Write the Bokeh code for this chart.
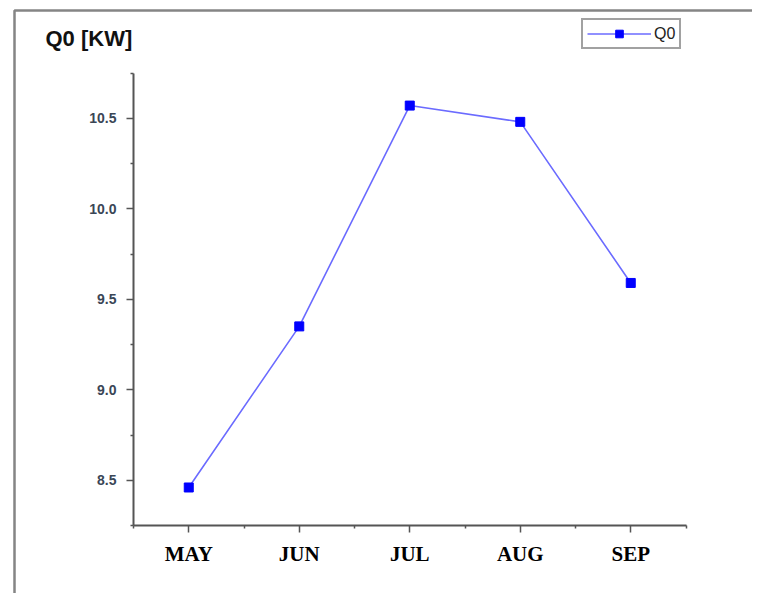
from bokeh.plotting import figure
from bokeh.models import FixedTicker, Legend, LegendItem, Range1d, Label, BoxAnnotation
from bokeh.embed import file_html
from bokeh.resources import INLINE

months = ["MAY", "JUN", "JUL", "AUG", "SEP"]
q0 = [8.46, 9.35, 10.57, 10.48, 9.59]
y_ticks = [8.5, 9.0, 9.5, 10.0, 10.5]
y_tick_labels = ["8.5", "9.0", "9.5", "10.0", "10.5"]
y_axis_span = (8.25, 10.75)
title_text = "Q0 [KW]"

xs = list(range(len(months)))
x_axis_span = (-0.5, len(months) - 0.5)

# Layout: the whole figure is the frame; axes are pinned inside it.
W, H = 752, 593
px_x = 110.5          # pixels per category step
px_y = 181.0          # pixels per 1 kW
ax_left, ax_bottom = 133, 68   # axis origin offset from figure left / bottom (px)
x0 = x_axis_span[0] - ax_left / px_x
x1 = x0 + W / px_x
y0 = y_axis_span[0] - ax_bottom / px_y
y1 = y0 + H / px_y

p = figure(width=W, height=H, output_backend="svg", toolbar_location=None,
           title_location=None,
           x_range=Range1d(x0, x1), y_range=Range1d(y0, y1), min_border=0)
p.grid.visible = False
p.outline_line_color = None

# outer page border (only left and top edges fall inside the picture)
p.add_layout(BoxAnnotation(left=x0 + 14 / px_x, top=y1 - 10 / px_y, right=x1 + 1, bottom=y0 - 1,
                           fill_alpha=0, line_color="#858585", line_width=2.5, line_alpha=1))

p.xaxis.fixed_location = y_axis_span[0]
p.xaxis.bounds = x_axis_span
p.xaxis.ticker = FixedTicker(ticks=xs, minor_ticks=[i - 0.5 for i in range(len(months) + 1)])
p.xaxis.major_label_overrides = {i: m for i, m in enumerate(months)}
p.xaxis.major_label_text_font = "Liberation Serif"
p.xaxis.major_label_text_font_style = "bold"
p.xaxis.major_label_text_font_size = "21px"
p.xaxis.major_label_text_color = "#000000"
p.xaxis.major_label_standoff = 9

p.yaxis.fixed_location = x_axis_span[0]
p.yaxis.bounds = y_axis_span
p.yaxis.ticker = FixedTicker(ticks=y_ticks, minor_ticks=[v - 0.25 for v in y_ticks] + [y_axis_span[1]])
p.yaxis.major_label_overrides = {v: s for v, s in zip(y_ticks, y_tick_labels)}
p.yaxis.major_label_text_font = "Liberation Sans"
p.yaxis.major_label_text_font_style = "bold"
p.yaxis.major_label_text_font_size = "14px"
p.yaxis.major_label_text_color = "#3a4656"
p.yaxis.major_label_standoff = 10

for ax in (p.xaxis, p.yaxis):
    ax.axis_line_color = "#555555"
    ax.axis_line_width = 2
    ax.major_tick_line_color = "#555555"
    ax.minor_tick_line_color = "#555555"
    ax.major_tick_line_width = 1.5
    ax.minor_tick_line_width = 1.5
    ax.major_tick_out = 7
    ax.major_tick_in = 0
    ax.minor_tick_out = 3
    ax.minor_tick_in = 0

ln = p.line(xs, q0, line_color="#6b6bff", line_width=1.6)
sc = p.scatter(xs, q0, marker="square", size=9, fill_color="#0000ff", line_color="#0000ff")

p.add_layout(Label(x=x0 + 45 / px_x, y=y1 - 38 / px_y, text=title_text,
                   text_font="Liberation Sans", text_font_size="22px", text_font_style="bold",
                   text_color="#111111", text_baseline="middle", text_align="left"))

legend = Legend(items=[LegendItem(label="Q0", renderers=[ln, sc])], location=(581, 544))
legend.border_line_color = "#444444"
legend.border_line_width = 2
legend.label_text_font = "Liberation Sans"
legend.label_text_font_size = "16px"
legend.label_text_color = "#222222"
legend.glyph_width = 64
legend.glyph_height = 19
legend.padding = 4
legend.margin = 0
legend.label_standoff = 3
legend.label_height = 19
p.add_layout(legend, "center")

open("out.html", "w").write(file_html(p, INLINE))
